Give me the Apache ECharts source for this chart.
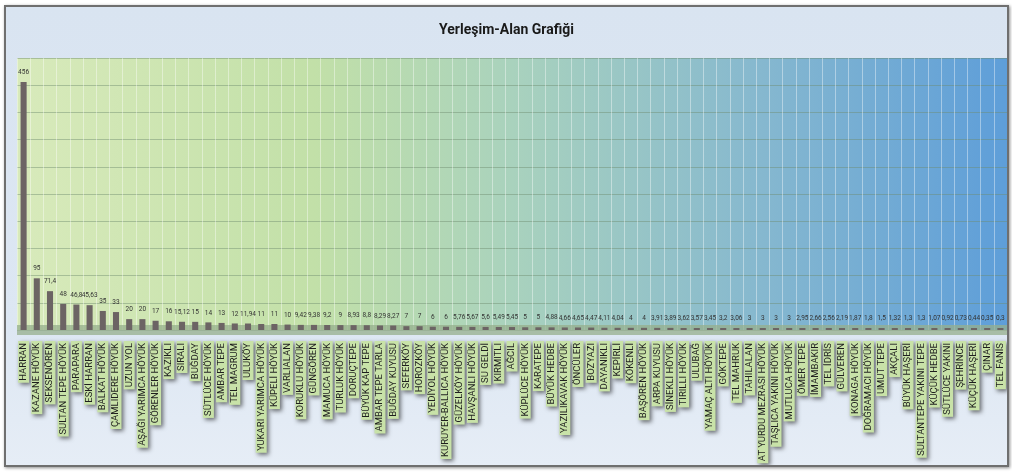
<!DOCTYPE html>
<html>
<head>
<meta charset="utf-8">
<script src="https://cdn.jsdelivr.net/npm/echarts@6/dist/echarts.min.js"></script>
<style>
  html, body { margin: 0; padding: 0; background: #ffffff; }
  #main {
    position: absolute; left: 4px; top: 5px; width: 1005px; height: 462px;
    box-sizing: border-box; border: 2px solid #6f6f6f;
    box-shadow: 1px 1px 3px rgba(0,0,0,0.45);
    background: linear-gradient(180deg, #d9e4f1 0%, #dde7f3 70%, #e6edf6 100%);
  }
</style>
</head>
<body>
<div id="main"></div>
<script>
var sites = [
  'HARRAN', 'KAZANE HÖYÜK', 'SEKSENÖREN', 'SULTAN TEPE HÖYÜK', 'PARAPARA', 'ESKİ HARRAN',
  'BALKAT HÖYÜK', 'ÇAMLIDERE HÖYÜK', 'UZUN YOL', 'AŞAĞI YARIMCA HÖYÜK', 'GÖRENLER HÖYÜK',
  'KAZIKLI', 'SIRALI', 'BUĞDAY', 'SÜTLÜCE HÖYÜK', 'AMBAR TEPE', 'TEL MAGRUM', 'ULUKÖY',
  'YUKARI YARIMCA HÖYÜK', 'KÜPELİ HÖYÜK', 'VARLIALAN', 'KORUKLU HÖYÜK', 'GÜNGÖREN',
  'MAMUCA HÖYÜK', 'TURLUK HÖYÜK', 'DORUÇTEPE', 'BÜYÜK KAP TEPE', 'AMBAR TEPE TARLA',
  'BUĞDAY KUYUSU', 'SEFERKÖY', 'HOROZKÖY', 'YEDİYOL HÖYÜK', 'KURUYER-BALLICA HÖYÜK',
  'GÜZELKÖY HÖYÜK', 'HAVŞANLI HÖYÜK', 'SU GELDİ', 'KIRMITLI', 'AĞCIL', 'KÜPLÜCE HÖYÜK',
  'KARATEPE', 'BÜYÜK HEDBE', 'YAZILIKAVAK HÖYÜK', 'ÖNCÜLER', 'BOZYAZI', 'DAYANIKLI',
  'KEPİRLİ', 'KÖKENLİ', 'BAŞÖREN HÖYÜK', 'ARPA KUYUSU', 'SİNEKLİ HÖYÜK', 'TIRILLI HÖYÜK',
  'ULUBAĞ', 'YAMAÇ ALTI HÖYÜK', 'GÖKTEPE', 'TEL MAHRUK', 'TAHILALAN', 'AT YURDU MEZRASI HÖYÜK',
  'TAŞLICA YAKINI HÖYÜK', 'MUTLUCA HÖYÜK', 'ÖMER TEPE', 'İMAMBAKIR', 'TEL İDRİS', 'GÜLVEREN',
  'KONAGA HÖYÜK', 'DOĞRAMACI HÖYÜK', 'UMUT TEPE', 'AKÇALI', 'BÜYÜK HAŞERİ',
  'SULTANTEPE YAKINI TEPE', 'KÜÇÜK HEDBE', 'SÜTLÜCE YAKINI', 'ŞEHRİNCE', 'KÜÇÜK HAŞERİ',
  'ÇINAR', 'TEL FANİS'
];

var areas = [
  456, 95, 71.4, 48, 46.8, 45.63,
  35, 33, 20, 20, 17,
  16, 15.12, 15, 14, 13, 12, 11.94,
  11, 11, 10, 9.42, 9.38,
  9.2, 9, 8.93, 8.8, 8.29,
  8.27, 7, 7, 6, 6,
  5.76, 5.67, 5.6, 5.49, 5.45, 5,
  5, 4.88, 4.66, 4.65, 4.47, 4.11,
  4.04, 4, 4, 3.91, 3.89, 3.62,
  3.57, 3.45, 3.2, 3.06, 3, 3,
  3, 3, 2.95, 2.66, 2.56, 2.19,
  1.87, 1.8, 1.5, 1.32, 1.3,
  1.3, 1.07, 0.92, 0.73, 0.44,
  0.35, 0.3
];

var yMax = 500;
var yStep = 50;

var myChart = echarts.init(document.getElementById('main'));

var option = {
  animation: false,
  title: {
    text: 'Yerleşim-Alan Grafiği',
    left: 'center',
    top: 11,
    textStyle: {
      fontFamily: 'Roboto',
      fontSize: 14,
      fontWeight: 'bold',
      color: '#1a1a1a'
    }
  },
  grid: {
    left: 11,
    right: 0,
    top: 51,
    bottom: 135,
    outerBoundsMode: 'none',
    show: true,
    borderWidth: 0,
    backgroundColor: new echarts.graphic.LinearGradient(0, 0, 1, 0, [
      { offset: 0, color: '#d8eabb' },
      { offset: 0.3, color: '#c2e0a8' },
      { offset: 0.5, color: '#a9d2bd' },
      { offset: 0.75, color: '#86b8cf' },
      { offset: 1, color: '#5e9ed9' }
    ])
  },
  xAxis: {
    type: 'category',
    data: sites,
    offset: 5,
    axisTick: { show: false },
    axisLine: {
      show: true,
      lineStyle: { color: 'rgba(150,175,140,0.75)', width: 10, cap: 'butt' }
    },
    splitLine: {
      show: true,
      lineStyle: { color: 'rgba(255,255,255,0.4)', width: 1 }
    },
    axisLabel: {
      interval: 0,
      rotate: 90,
      margin: 6,
      fontFamily: 'Liberation Sans Narrow, Roboto, sans-serif',
      fontSize: 9.5,
      lineHeight: 11,
      color: '#1e1e1e',
      backgroundColor: '#c8e2a8',
      padding: [0, 2],
      shadowColor: 'rgba(0,0,0,0.55)',
      shadowBlur: 4,
      shadowOffsetX: 2,
      shadowOffsetY: 2
    }
  },
  yAxis: {
    type: 'value',
    min: 0,
    max: yMax,
    interval: yStep,
    axisLabel: { show: false },
    axisLine: { show: false },
    axisTick: { show: false },
    splitLine: {
      lineStyle: { color: 'rgba(110,140,110,0.45)', width: 1 }
    }
  },
  series: [
    {
      name: 'Alan',
      type: 'bar',
      data: areas,
      barWidth: '46%',
      barMinHeight: 2,
      itemStyle: { color: '#6c6464' },
      label: {
        show: true,
        position: 'top',
        distance: 6,
        fontFamily: 'Liberation Sans Narrow, Roboto, sans-serif',
        fontSize: 6.5,
        color: '#333333',
        formatter: function (p) {
          return String(p.value).replace('.', ',');
        }
      }
    }
  ]
};

myChart.setOption(option);
</script>
</body>
</html>
